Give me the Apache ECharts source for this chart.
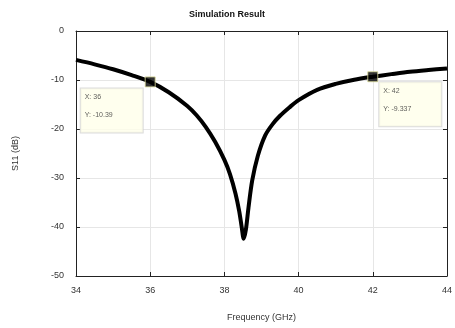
<!DOCTYPE html>
<html>
<head>
<meta charset="utf-8">
<script src="https://cdn.jsdelivr.net/npm/echarts@6/dist/echarts.min.js"></script>
<style>
html,body{margin:0;padding:0;background:#fff;}
#main{width:455px;height:328px;}
</style>
</head>
<body>
<div id="main"></div>
<script>
//frequency points (GHz)
var freqs = [34, 34.5, 35, 35.5, 36, 36.5, 37, 37.25, 37.5, 37.75, 38.0, 38.15, 38.3, 38.4, 38.47, 38.52, 38.58, 38.65, 38.75, 38.9, 39.1, 39.3, 39.5, 39.75, 40, 40.5, 41, 41.5, 42, 42.5, 43, 43.5, 44];
//S11 values (dB)
var s11 = [-5.9, -6.8, -7.8, -9.0, -10.39, -12.5, -15.3, -17.2, -19.6, -22.6, -26.3, -29.2, -33.2, -36.8, -40.2, -42.4, -40.5, -36, -30.5, -25.5, -21.3, -19, -17.3, -15.6, -14.1, -12.0, -10.8, -9.95, -9.337, -8.8, -8.3, -7.95, -7.65];
//data tips
var tipX = [36, 42];
var tipY = [-10.39, -9.337];
var tipPos = [[-64, 12], [12, 11]];

var font = 'Liberation Sans, Arial, sans-serif';
var myChart = echarts.init(document.getElementById('main'));

var lineData = [];
for (var i = 0; i < freqs.length; i++) {
    lineData.push([freqs[i], s11[i]]);
}
var tipData = [];
for (var j = 0; j < tipX.length; j++) {
    tipData.push({
        value: [tipX[j], tipY[j]],
        label: {position: tipPos[j]}
    });
}

var axisBase = {
    axisLine: {show: true, onZero: false, lineStyle: {color: '#222', width: 1}},
    axisTick: {show: true, inside: true, length: 4, lineStyle: {color: '#222'}}
};

var option = {
    animation: false,
    backgroundColor: '#fff',
    title: {
        text: 'Simulation Result',
        left: 222,
        textAlign: 'center',
        top: 5,
        textStyle: {fontFamily: font, fontSize: 9, fontWeight: 'bold', color: '#111'}
    },
    grid: {left: 76, right: 7, top: 31, bottom: 52},
    xAxis: [
        Object.assign({
            type: 'value', min: 34, max: 44, interval: 2,
            name: 'Frequency (GHz)', nameLocation: 'middle', nameGap: 37,
            nameTextStyle: {fontFamily: font, fontSize: 9, color: '#333'},
            axisLabel: {fontFamily: font, fontSize: 9, color: '#333', margin: 10},
            splitLine: {show: true, lineStyle: {color: '#e6e6e6'}}
        }, axisBase),
        Object.assign({
            type: 'value', min: 34, max: 44, interval: 2, position: 'top',
            axisLabel: {show: false}, splitLine: {show: false}
        }, axisBase)
    ],
    yAxis: [
        Object.assign({
            type: 'value', min: -50, max: 0, interval: 10,
            name: 'S11 (dB)', nameLocation: 'middle', nameGap: 56,
            nameTextStyle: {fontFamily: font, fontSize: 9, color: '#333'},
            axisLabel: {fontFamily: font, fontSize: 9, color: '#333', margin: 12, padding: [0, 0, 9, 0]},
            splitLine: {show: true, lineStyle: {color: '#e6e6e6'}}
        }, axisBase),
        Object.assign({
            type: 'value', min: -50, max: 0, interval: 10, position: 'right',
            axisLabel: {show: false}, splitLine: {show: false}
        }, axisBase)
    ],
    series: [
        {
            type: 'line',
            data: lineData,
            smooth: 0.3,
            showSymbol: false,
            lineStyle: {color: '#000', width: 4},
            z: 2
        },
        {
            type: 'scatter',
            data: tipData,
            symbol: 'rect',
            symbolSize: 10,
            itemStyle: {color: '#000', borderColor: '#dcdc9a', borderWidth: 1},
            label: {
                show: true,
                align: 'left',
                verticalAlign: 'top',
                formatter: function (p) {
                    return 'X: ' + p.value[0] + '\nY: ' + p.value[1];
                },
                fontFamily: font,
                fontSize: 7,
                color: '#333',
                lineHeight: 18,
                width: 54,
                padding: [0, 4, 8, 4],
                backgroundColor: '#ffffea',
                borderColor: '#d2d2d2',
                borderWidth: 1
            },
            z: 5
        }
    ]
};
myChart.setOption(option);
</script>
</body>
</html>
